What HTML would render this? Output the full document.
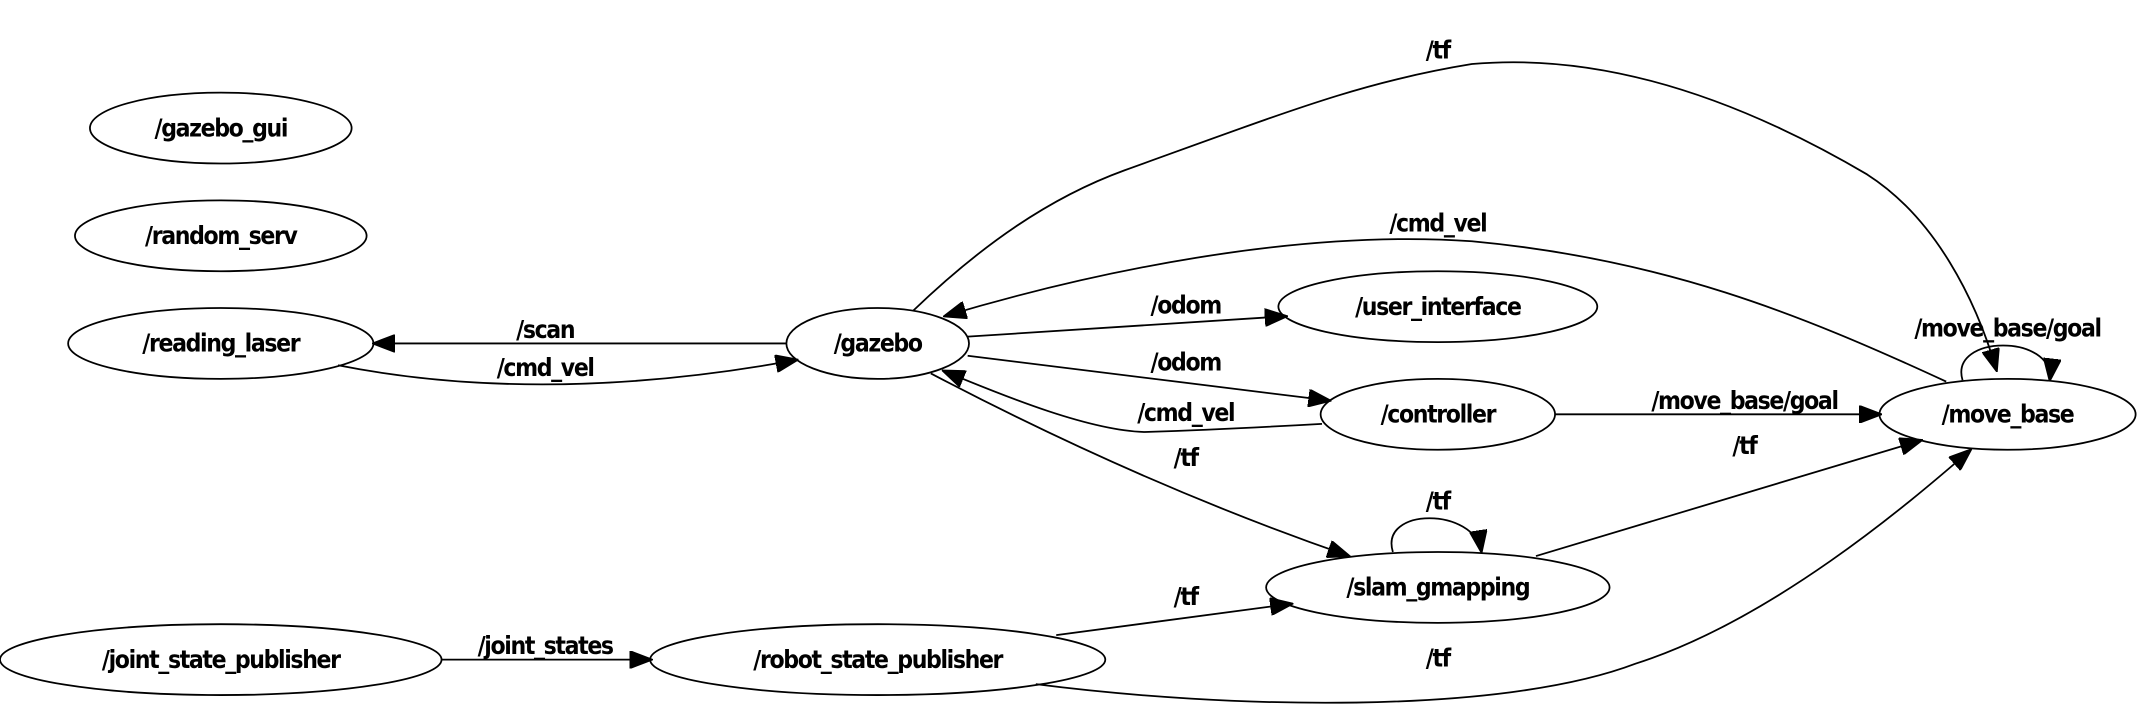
<!DOCTYPE html>
<html><head><meta charset="utf-8"><style>
html,body{margin:0;padding:0;background:#fff;}
svg{display:block;}
text{font-family:"DejaVu Sans Condensed","DejaVu Sans","Liberation Sans",sans-serif;font-weight:bold;font-stretch:condensed;font-size:18px;letter-spacing:-1px;text-anchor:middle;fill:#000;}
ellipse{fill:none;stroke:#000;stroke-width:1.3;}
path{fill:none;stroke:#000;stroke-width:1.3;}
</style></head><body>
<svg width="2137" height="723" viewBox="0 0 1568 530.5" preserveAspectRatio="none" xmlns="http://www.w3.org/2000/svg">
<defs>
<marker id="a" markerWidth="17" markerHeight="13" refX="16" refY="6.5" orient="auto" markerUnits="userSpaceOnUse">
<path d="M0,0 L17,6.5 L0,13 Z" style="fill:#000;stroke:#000;stroke-width:1"/>
</marker>
</defs>
<ellipse cx="162" cy="94" rx="96" ry="26"/><text x="162" y="100">/gazebo_gui</text>
<ellipse cx="162" cy="173" rx="107" ry="26"/><text x="162" y="179">/random_serv</text>
<ellipse cx="162" cy="252" rx="112" ry="26"/><text x="162" y="258">/reading_laser</text>
<ellipse cx="644" cy="252" rx="67" ry="26"/><text x="644" y="258">/gazebo</text>
<ellipse cx="1055" cy="225" rx="117" ry="26"/><text x="1055" y="231">/user_interface</text>
<ellipse cx="1055" cy="304" rx="86" ry="26"/><text x="1055" y="310">/controller</text>
<ellipse cx="1473" cy="304" rx="94" ry="26"/><text x="1473" y="310">/move_base</text>
<ellipse cx="1055" cy="431" rx="126" ry="26"/><text x="1055" y="437">/slam_gmapping</text>
<ellipse cx="162" cy="484" rx="162" ry="26"/><text x="162" y="490">/joint_state_publisher</text>
<ellipse cx="644" cy="484" rx="167" ry="26"/><text x="644" y="490">/robot_state_publisher</text>

<path d="M577,252 L274,252" marker-end="url(#a)"/><text x="400" y="248">/scan</text>
<path d="M248,268 Q400,298 585,264" marker-end="url(#a)"/><text x="400" y="276">/cmd_vel</text>
<path d="M670,228 C720,180 770,145 825,125 C950,80 1000,60 1080,47 C1180,38 1280,75 1370,128 C1420,160 1450,220 1465,272" marker-end="url(#a)"/><text x="1055" y="43">/tf</text>
<path d="M1428,280 C1320,230 1220,190 1080,177 C950,168 800,200 693,232" marker-end="url(#a)"/><text x="1055" y="170">/cmd_vel</text>
<path d="M710,247 L944,232" marker-end="url(#a)"/><text x="870" y="230">/odom</text>
<path d="M710,261 L976,294" marker-end="url(#a)"/><text x="870" y="272">/odom</text>
<path d="M970,311 C900,315 870,316 840,317 C800,316 740,292 692,272" marker-end="url(#a)"/><text x="870" y="309">/cmd_vel</text>
<path d="M683,274 C780,325 880,370 990,408" marker-end="url(#a)"/><text x="870" y="342">/tf</text>
<path d="M1141,304 L1380,304" marker-end="url(#a)"/><text x="1280" y="300">/move_base/goal</text>
<path d="M1127,408 L1410,323" marker-end="url(#a)"/><text x="1280" y="333">/tf</text>
<path d="M1022,405 C1012,372 1082,372 1087,405" marker-end="url(#a)"/><text x="1055" y="374">/tf</text>
<path d="M1440,279 C1430,245 1508,245 1504,279" marker-end="url(#a)"/><text x="1473" y="247">/move_base/goal</text>
<path d="M324,484 L478,484" marker-end="url(#a)"/><text x="400" y="480">/joint_states</text>
<path d="M775,466 L948,443" marker-end="url(#a)"/><text x="870" y="444">/tf</text>
<path d="M760,502 C900,520 1100,525 1200,487 C1300,455 1400,370 1446,330" marker-end="url(#a)"/><text x="1055" y="489">/tf</text>
</svg>
</body></html>
